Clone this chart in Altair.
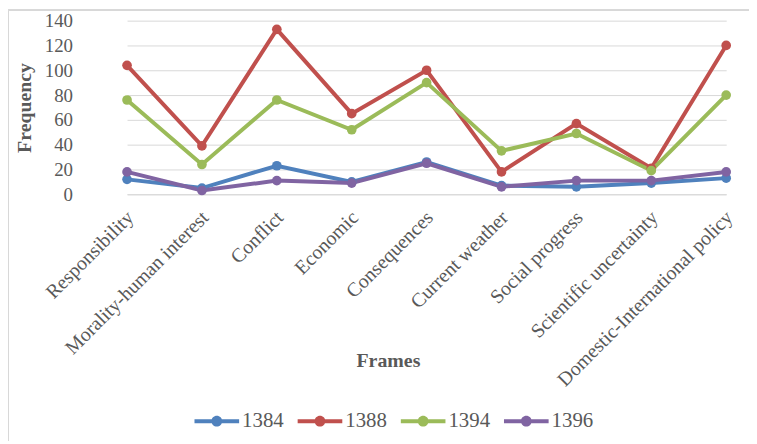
import altair as alt
import pandas as pd

frames = ["Responsibility", "Morality-human interest", "Conflict", "Economic",
          "Consequences", "Current weather", "Social progress",
          "Scientific uncertainty", "Domestic-International policy"]
years = ["1384", "1388", "1394", "1396"]
v1384 = [12, 5, 23, 10, 26, 7, 6, 9, 13]
v1388 = [104, 39, 133, 65, 100, 18, 57, 21, 120]
v1394 = [76, 24, 76, 52, 90, 35, 49, 19, 80]
v1396 = [18, 3, 11, 9, 25, 6, 11, 11, 18]
colors = ["#4F81BD", "#C0504D", "#9BBB59", "#8064A2"]

rows = []
for yr, vals in zip(years, [v1384, v1388, v1394, v1396]):
    for f, v in zip(frames, vals):
        rows.append({"Frame": f, "Year": yr, "Frequency": v})
df = pd.DataFrame(rows)

FONT = "Liberation Serif"
GRAY = "#595959"
W, H = 660, 175
PB = 248

x_enc = alt.X("Frame:N", sort=frames,
              scale=alt.Scale(type="point", range=[38, 642], padding=0),
              axis=alt.Axis(title="Frames", labelAngle=-45, labelAlign="right",
                            labelBaseline="middle", labelPadding=20, labelOffset=3,
                            ticks=False, tickSize=0, grid=False,
                            domainColor="#D9D9D9", domainWidth=1,
                            labelFontSize=20, labelColor=GRAY, labelFont=FONT,
                            titleFont=FONT, titleFontSize=20, titleFontWeight="bold",
                            titleColor=GRAY, titleX=301, titleY=174,
                            titleAlign="center", titleBaseline="alphabetic",
                            labelLimit=400))
y_enc = alt.Y("Frequency:Q",
              scale=alt.Scale(domain=[0, 140], nice=False),
              axis=alt.Axis(title="Frequency", values=[0, 20, 40, 60, 80, 100, 120, 140],
                            domain=False, ticks=False, tickSize=0, labelPadding=17,
                            gridColor="#D9D9D9", gridWidth=1,
                            labelFontSize=19, labelColor=GRAY, labelFont=FONT,
                            titleFont=FONT, titleFontSize=20, titleFontWeight="bold",
                            titleColor=GRAY, titleX=-65, titleY=87.5,
                            titleAngle=270, titleAlign="center", titleBaseline="middle"))

color_scale = alt.Scale(domain=years, range=colors)

sym = ("M-1,-0.09L1,-0.09L1,0.09L-1,0.09Z "
       "M0.24,0A0.24,0.24 0 1,1 -0.24,0A0.24,0.24 0 1,1 0.24,0Z")

legend = alt.Legend(title=None, orient="none", direction="horizontal",
                    legendX=106, legendY=381,
                    symbolType=sym, symbolSize=2025, symbolStrokeWidth=0,
                    labelOffset=3, columnPadding=14, padding=0,
                    labelFont=FONT, labelFontSize=21, labelColor=GRAY)

lines = alt.Chart(df).mark_line(strokeWidth=4).encode(
    x=x_enc, y=y_enc,
    color=alt.Color("Year:N", scale=color_scale, legend=legend),
)

points = alt.Chart(df).mark_point(size=95, filled=True, opacity=1).encode(
    x=x_enc, y=y_enc,
    color=alt.Color("Year:N", scale=color_scale, legend=legend),
)

border = alt.Chart(df).mark_rule(color="#D9D9D9", strokeWidth=1).encode(
    x=alt.value(-81.5), y=alt.value(-10.5), y2=alt.value(H + PB))
border_top = alt.Chart(df).mark_rule(color="#D9D9D9", strokeWidth=1).encode(
    x=alt.value(-81.5), x2=alt.value(W + 5), y=alt.value(-10.5))

chart = alt.layer(lines, points, border, border_top).properties(
    width=W, height=H,
    autosize=alt.AutoSizeParams(type="none"),
    padding={"left": 82, "top": 11, "right": 5, "bottom": PB},
).configure_view(stroke=None)

chart.save("out.html", embed_options={"renderer": "svg", "actions": False})
